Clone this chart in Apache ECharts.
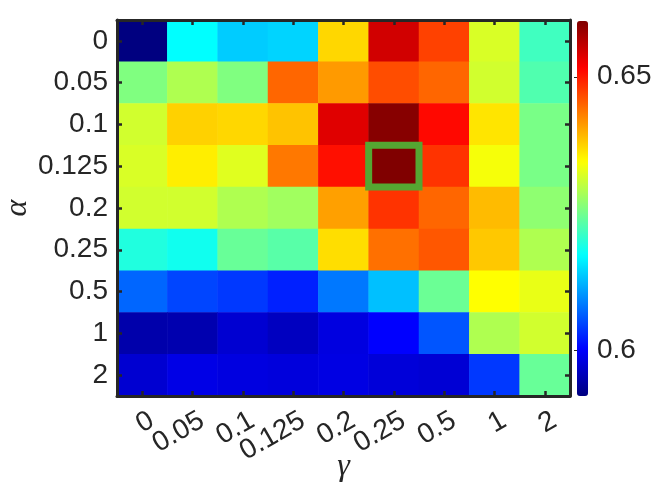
<!DOCTYPE html>
<html>
<head>
<meta charset="utf-8">
<script src="https://cdn.jsdelivr.net/npm/echarts@6/dist/echarts.min.js"></script>
<style>html,body{margin:0;padding:0;background:#fff}#main{width:665px;height:490px}</style>
</head>
<body>
<div id="main"></div>
<script>
// Tick labels
const gammaLabels = ['0','0.05','0.1','0.125','0.2','0.25','0.5','1','2'];
const alphaLabels = ['0','0.05','0.1','0.125','0.2','0.25','0.5','1','2'];
// Values per alpha row (columns follow gammaLabels)
const rowAlpha0    = [0.5916,0.6173,0.6139,0.6144,0.6372,0.6547,0.6473,0.6319,0.6216];
const rowAlpha005  = [0.6259,0.6291,0.6259,0.6448,0.6413,0.6465,0.6448,0.6314,0.6227];
const rowAlpha01   = [0.6314,0.6376,0.6372,0.6385,0.6537,0.6597,0.6511,0.6362,0.6254];
const rowAlpha0125 = [0.6319,0.6356,0.6324,0.6436,0.6506,0.6602,0.6482,0.6339,0.6254];
const rowAlpha02   = [0.6314,0.6314,0.6291,0.6281,0.6409,0.6482,0.6448,0.6391,0.6269];
const rowAlpha025  = [0.6195,0.6184,0.6243,0.6232,0.6367,0.6441,0.6458,0.6382,0.6291];
const rowAlpha05   = [0.6070,0.6048,0.6039,0.6023,0.6082,0.6131,0.6245,0.6345,0.6330];
const rowAlpha1    = [0.5945,0.5948,0.5971,0.5959,0.5981,0.6002,0.6059,0.6291,0.6314];
const rowAlpha2    = [0.5971,0.5985,0.5981,0.5978,0.5983,0.5976,0.5973,0.6039,0.6243];
// Colorbar
const cbarMin = 0.5916;
const cbarMax = 0.6602;
const cbarTicks = [0.6, 0.65];
// Highlighted cell [gamma, alpha]
const highlightCell = ['0.25', '0.125'];

const rows = [rowAlpha0,rowAlpha005,rowAlpha01,rowAlpha0125,rowAlpha02,rowAlpha025,rowAlpha05,rowAlpha1,rowAlpha2];
const heatData = [];
rows.forEach((r, yi) => r.forEach((v, xi) => heatData.push([xi, yi, v])));

const jet = ['#000080','#0000ff','#0080ff','#00ffff','#80ff80','#ffff00','#ff8000','#ff0000','#800000'];
const ink = '#262626';
const font = 'Liberation Sans';

const catAxisCommon = {
  type: 'category', z: 10,
  axisLine: {show: true, lineStyle: {color: ink, width: 3}},
  axisTick: {show: true, inside: true, alignWithLabel: true, length: 5, lineStyle: {color: ink, width: 2.5}},
  splitLine: {show: false}
};

const chart = echarts.init(document.getElementById('main'));
chart.setOption({
  animation: false,
  backgroundColor: '#fff',
  textStyle: {fontFamily: font},
  grid: [
    {left: 117, top: 20, width: 453, height: 376, containLabel: false, outerBoundsMode: 'none'},
    {left: 577, top: 21, width: 11, height: 375, containLabel: false, outerBoundsMode: 'none'}
  ],
  xAxis: [
    Object.assign({}, catAxisCommon, {
      gridIndex: 0, position: 'bottom', data: gammaLabels,
      axisLabel: {interval: 0, rotate: 30, fontSize: 28, color: ink, fontFamily: font, margin: 12, verticalAlign: 'top',
        padding: [0, -3, 0, 0]},
      name: 'γ', nameLocation: 'middle', nameGap: 55, nameMoveOverlap: false,
      nameTextStyle: {fontFamily: 'Liberation Serif', fontStyle: 'italic', fontSize: 32, color: ink}
    }),
    Object.assign({}, catAxisCommon, {
      gridIndex: 0, position: 'top', data: gammaLabels, axisLabel: {show: false}
    }),
    {gridIndex: 1, type: 'value', show: false, min: 0, max: 1}
  ],
  yAxis: [
    Object.assign({}, catAxisCommon, {
      gridIndex: 0, position: 'left', inverse: true, data: alphaLabels,
      axisLabel: {interval: 0, fontSize: 28, color: ink, fontFamily: font, margin: 9},
      name: 'α', nameLocation: 'middle', nameGap: 83, nameRotate: 90, nameMoveOverlap: false,
      nameTextStyle: {fontFamily: 'Liberation Serif', fontStyle: 'italic', fontSize: 32, color: ink}
    }),
    Object.assign({}, catAxisCommon, {
      gridIndex: 0, position: 'right', inverse: true, data: alphaLabels, axisLabel: {show: false}
    }),
    {
      gridIndex: 1, type: 'value', position: 'right', min: cbarMin, max: cbarMax, z: 10,
      axisLine: {show: false},
      axisTick: {show: true, inside: true, length: 3, customValues: cbarTicks, lineStyle: {color: ink, width: 1}},
      axisLabel: {show: true, customValues: cbarTicks, fontSize: 28, color: ink, fontFamily: font, margin: 9,
        formatter: v => String(+v.toFixed(2))},
      splitLine: {show: false}
    }
  ],
  visualMap: {
    type: 'continuous', min: cbarMin, max: cbarMax, seriesIndex: 0,
    calculable: false, show: true, left: 577, top: 21, itemWidth: 11, itemHeight: 375,
    padding: 0, borderWidth: 0, inRange: {color: jet}, hoverLink: false
  },
  series: [
    {
      type: 'heatmap', xAxisIndex: 0, yAxisIndex: 0, data: heatData,
      itemStyle: {borderWidth: 0}, emphasis: {disabled: true}
    },
    {
      type: 'custom', xAxisIndex: 0, yAxisIndex: 0, z: 5,
      data: [[gammaLabels.indexOf(highlightCell[0]), alphaLabels.indexOf(highlightCell[1])]],
      renderItem: function (params, api) {
        const c = api.coord([api.value(0), api.value(1)]);
        const s = api.size([1, 1]);
        return {
          type: 'rect',
          shape: {x: c[0] - s[0] / 2, y: c[1] - s[1] / 2, width: s[0], height: s[1]},
          style: {fill: 'none', stroke: '#55a632', lineWidth: 7}
        };
      }
    }
  ]
});
</script>
</body>
</html>
